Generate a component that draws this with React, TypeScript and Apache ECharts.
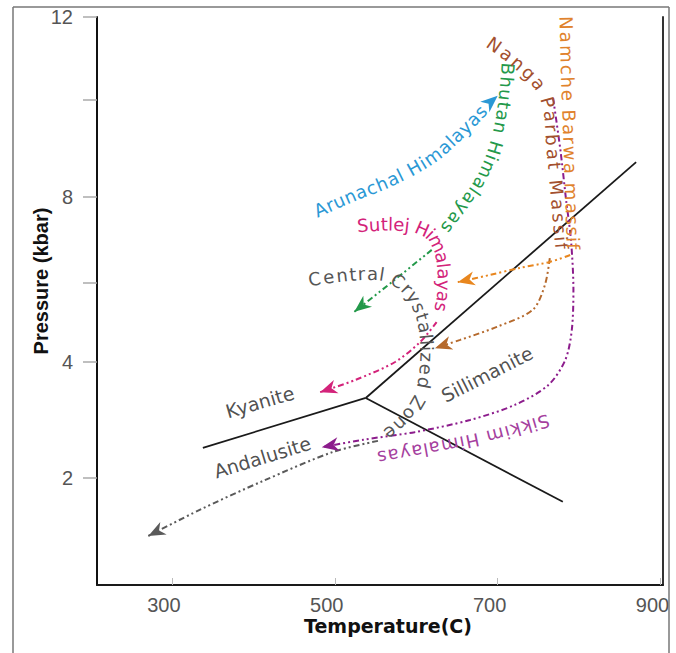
import React, { useEffect, useRef } from 'react';
import * as echarts from 'echarts';

// ---------- axes ----------
const temperatureTicks = [300, 500, 700, 900];
const pressureTicks = [2, 4, 6, 8, 10, 12];
const pressureLabels = [2, 4, 8, 12];
// the hand-drawn pressure axis is not uniform: pressure (kbar) -> plotted height
const pressureScaleP = [0, 2, 4, 6, 8, 10, 12];
const pressureScaleH = [-9, 107, 223, 302, 388, 485, 568];

// ---------- aluminosilicate reaction lines [T (C), P (kbar)] ----------
const kyaniteAndalusite = [[338, 2.52], [538, 3.38]];
const kyaniteSillimanite = [[538, 3.38], [870, 8.72]];
const andalusiteSillimanite = [[538, 3.38], [780, 1.59]];

const fieldNames = ['Kyanite', 'Andalusite', 'Sillimanite'];
const fieldPositions = [[408, 3.31], [411, 2.36], [687, 3.79]];

// ---------- P-T paths [T (C), P (kbar)] ----------
const arunachalText = [[475, 7.65], [519, 8.02], [568, 8.35], [617, 8.8], [654, 9.34], [683, 9.84]];
const arunachalPath = [[683, 9.84], [700, 10.1]];

const bhutanText = [[713, 10.92], [709, 10.0], [700, 9.18], [684, 8.45], [660, 7.81], [635, 7.19]];
const bhutanPath = [[619, 6.77], [570, 6.02], [524, 5.27]];

const nangaText = [[687, 11.45], [721, 10.96], [752, 10.36], [764, 9.79], [768, 8.97], [773, 8.04], [779, 6.77]];
const nangaPath = [[764, 6.58], [758, 5.95], [743, 5.32], [699, 4.89], [654, 4.56], [623, 4.35]];

const namcheText = [[784, 12.05], [786, 10.48], [789, 8.97], [793, 6.77]];
const namchePath = [[789, 6.65], [764, 6.49], [727, 6.35], [691, 6.19], [651, 6.02]];

const sutlejText = [[527, 7.33], [570, 7.37], [605, 7.28], [624, 7.0], [633, 6.49], [634, 5.82], [630, 5.27]];
const sutlejPath = [[625, 5.01], [605, 4.51], [574, 4.0], [525, 3.69], [482, 3.48]];

const centralText = [[466, 6.07], [513, 6.19], [556, 6.21], [580, 6.02], [598, 5.62], [610, 4.94], [613, 4.05], [606, 3.43], [586, 3.0], [562, 2.71]];
const centralPath = [[553, 2.64], [498, 2.45], [412, 1.95], [334, 1.45], [271, 1.0]];

const sikkimPath = [[768, 10.05], [777, 8.97], [784, 7.93], [790, 7.0], [793, 5.82], [791, 4.81], [783, 4.05], [762, 3.6], [721, 3.26], [666, 3.0], [598, 2.79], [535, 2.66], [484, 2.53]];
const sikkimText = [[764, 3.0], [694, 2.72], [629, 2.53], [552, 2.34]];

const routes = [
  { name: 'Arunachal Himalayas', text: arunachalText, path: arunachalPath, line: false, textColor: '#2a98d5', lineColor: '#2a98d5' },
  { name: 'Bhutan Himalayas', text: bhutanText, path: bhutanPath, line: true, textColor: '#23994a', lineColor: '#23994a' },
  { name: 'Nanga Parbat Massif', text: nangaText, path: nangaPath, line: true, textColor: '#a3502e', lineColor: '#b5692c' },
  { name: 'Namche Barwa massif', text: namcheText, path: namchePath, line: true, textColor: '#e0822c', lineColor: '#e8861e' },
  { name: 'Sutlej Himalayas', text: sutlejText, path: sutlejPath, line: true, textColor: '#d3237a', lineColor: '#d3237a' },
  { name: 'Central Crystallized Zone', text: centralText, path: centralPath, line: true, textColor: '#555555', lineColor: '#5a5a5a' },
  { name: 'Sikkim Himalayas', text: sikkimText, path: sikkimPath, line: true, textColor: '#a5409e', lineColor: '#8c1c8c' },
];

function interp(v: number, xs: number[], ys: number[]) {
  let i = 0;
  if (v <= xs[0]) i = 0;
  else if (v >= xs[xs.length - 1]) i = xs.length - 2;
  else while (v > xs[i + 1]) i++;
  return ys[i] + ((v - xs[i]) * (ys[i + 1] - ys[i])) / (xs[i + 1] - xs[i]);
}
const toH = (p: number) => interp(p, pressureScaleP, pressureScaleH);
const fromH = (h: number) => interp(h, pressureScaleH, pressureScaleP);

function catmull(pts: number[][]) {
  if (pts.length < 3) return pts.slice();
  const out: number[][] = [];
  for (let i = 0; i < pts.length - 1; i++) {
    const p0 = pts[i - 1] || pts[i], p1 = pts[i], p2 = pts[i + 1], p3 = pts[i + 2] || pts[i + 1];
    for (let k = 0; k < 12; k++) {
      const t = k / 12, t2 = t * t, t3 = t2 * t;
      const f = (a: number, b: number, c: number, d: number) =>
        0.5 * (2 * b + (-a + c) * t + (2 * a - 5 * b + 4 * c - d) * t2 + (-a + 3 * b - 3 * c + d) * t3);
      out.push([f(p0[0], p1[0], p2[0], p3[0]), f(p0[1], p1[1], p2[1], p3[1])]);
    }
  }
  out.push(pts[pts.length - 1]);
  return out;
}

const PATH_FONT_SIZE = 18;
const PATH_FONT = `${PATH_FONT_SIZE}px "DejaVu Sans"`;

function textAlongPath(text: string, pix: number[][], color: string) {
  const pts = catmull(pix);
  const cum = [0];
  for (let i = 1; i < pts.length; i++) {
    cum.push(cum[i - 1] + Math.hypot(pts[i][0] - pts[i - 1][0], pts[i][1] - pts[i - 1][1]));
  }
  const L = cum[cum.length - 1];
  const ctx = document.createElement('canvas').getContext('2d')!;
  ctx.font = PATH_FONT;
  const chars = Array.from(text);
  const widths = chars.map((c) => ctx.measureText(c).width || PATH_FONT_SIZE * 0.5);
  const total = widths.reduce((a, b) => a + b, 0);
  const scale = L / total;
  const els: any[] = [];
  let s = 0;
  chars.forEach((ch, idx) => {
    const sc = (s + widths[idx] / 2) * scale;
    s += widths[idx];
    let j = 1;
    while (j < cum.length - 1 && cum[j] < sc) j++;
    const a = pts[j - 1], b = pts[j];
    const segL = cum[j] - cum[j - 1] || 1;
    const t = Math.min(1, Math.max(0, (sc - cum[j - 1]) / segL));
    const x = a[0] + (b[0] - a[0]) * t;
    const y = a[1] + (b[1] - a[1]) * t;
    const ang = Math.atan2(b[1] - a[1], b[0] - a[0]);
    if (ch === ' ') return;
    els.push({
      type: 'text',
      x,
      y,
      rotation: -ang,
      z: 20,
      silent: true,
      style: {
        text: ch,
        fill: color,
        font: PATH_FONT,
        textAlign: 'center',
        textVerticalAlign: 'middle',
        align: 'center',
        verticalAlign: 'middle',
      },
    });
  });
  return els;
}

function arrowHead(pix: number[][], color: string) {
  const tip = pix[pix.length - 1];
  const prev = pix[pix.length - 2];
  let dx = tip[0] - prev[0], dy = tip[1] - prev[1];
  const d = Math.hypot(dx, dy) || 1;
  dx /= d; dy /= d;
  const px = -dy, py = dx;
  const len = 17, half = 7, notch = 12;
  return {
    type: 'polygon',
    z: 25,
    silent: true,
    shape: {
      points: [
        [tip[0], tip[1]],
        [tip[0] - dx * len + px * half, tip[1] - dy * len + py * half],
        [tip[0] - dx * notch, tip[1] - dy * notch],
        [tip[0] - dx * len - px * half, tip[1] - dy * len - py * half],
      ],
    },
    style: { fill: color },
  };
}

export default function App() {
  const ref = useRef<HTMLDivElement>(null);
  useEffect(() => {
    const el = ref.current!;
    const chart = echarts.init(el, null, { renderer: 'svg' });
    const pt = (d: number[]) => [d[0], toH(d[1])];
    const dash = [6, 3, 2, 3, 2, 3];
    const fieldRotations = [16, 17, 27];

    const series: any[] = [];
    [kyaniteAndalusite, kyaniteSillimanite, andalusiteSillimanite].forEach((seg) => {
      series.push({
        type: 'line',
        data: seg.map(pt),
        symbol: 'none',
        silent: true,
        z: 3,
        lineStyle: { color: '#1a1a1a', width: 1.8 },
      });
    });
    routes.forEach((r) => {
      if (!r.line) return;
      series.push({
        type: 'line',
        name: r.name,
        data: r.path.map(pt),
        smooth: 0.3,
        symbol: 'none',
        silent: true,
        z: 4,
        lineStyle: { color: r.lineColor, width: 2, type: dash },
      });
    });
    series.push({
      type: 'scatter',
      symbolSize: 1,
      silent: true,
      z: 6,
      itemStyle: { color: 'transparent' },
      data: fieldNames.map((n, i) => ({
        name: n,
        value: pt(fieldPositions[i]),
        label: { rotate: fieldRotations[i] },
      })),
      label: {
        show: true,
        position: 'inside',
        formatter: '{b}',
        fontSize: 19,
        fontFamily: '"DejaVu Sans"',
        color: '#222',
      },
    });

    chart.setOption({
      animation: false,
      backgroundColor: '#ffffff',
      grid: { left: 97, right: 13, top: 17, bottom: 68, containLabel: false, outerBoundsMode: 'none' },
      xAxis: {
        type: 'value',
        min: 208,
        max: 903,
        name: 'Temperature(C)',
        nameLocation: 'middle',
        nameGap: 31,
        nameMoveOverlap: false,
        nameTextStyle: { fontSize: 19, fontWeight: 'bold', color: '#111', fontFamily: '"DejaVu Sans"', padding: [0, 0, 0, 16] },
        axisLine: { show: true, onZero: false, lineStyle: { color: '#1a1a1a', width: 2 } },
        axisTick: { show: true, inside: true, length: 7, customValues: temperatureTicks, lineStyle: { color: '#bbbbbb', width: 1 } },
        axisLabel: {
          customValues: temperatureTicks,
          margin: 10,
          fontSize: 20,
          color: '#555',
          fontFamily: '"Liberation Sans"',
          padding: [0, 16, 0, 0],
        },
        splitLine: { show: false },
      },
      yAxis: [
        {
          type: 'value',
          min: 0,
          max: 568,
          name: 'Pressure (kbar)',
          nameLocation: 'middle',
          nameGap: 46,
          nameMoveOverlap: false,
          nameTextStyle: { fontSize: 20, fontWeight: 'bold', color: '#111', fontFamily: '"Liberation Sans"', padding: [0, 0, 0, 40] },
          axisLine: { show: true, onZero: false, lineStyle: { color: '#111', width: 2 } },
          axisTick: { show: true, inside: false, length: 14, customValues: pressureTicks.map(toH), lineStyle: { color: '#aaaaaa', width: 1.5 } },
          axisLabel: {
            customValues: pressureLabels.map(toH),
            formatter: (v: number) => String(Math.round(fromH(v))),
            margin: 24,
            fontSize: 20,
            color: '#555',
            fontFamily: '"Liberation Sans"',
          },
          splitLine: { show: false },
        },
        {
          type: 'value',
          min: 0,
          max: 568,
          position: 'right',
          axisLine: { show: true, onZero: false, lineStyle: { color: '#333', width: 2 } },
          axisTick: { show: false },
          axisLabel: { show: false },
          splitLine: { show: false },
        },
      ],
      series,
    });

    const toPix = (d: number[]) => chart.convertToPixel({ gridIndex: 0 }, pt(d)) as number[];
    const graphics: any[] = [];
    routes.forEach((r) => {
      const tp = r.text.map(toPix);
      graphics.push(...textAlongPath(r.name, tp, r.textColor));
      graphics.push(arrowHead(r.path.map(toPix), r.lineColor));
    });
    // outer figure frame
    graphics.push({ type: 'rect', z: 50, silent: true, shape: { x: 670, y: 0, width: 6, height: 653 }, style: { fill: '#fff' } });
    graphics.push({ type: 'line', z: 51, silent: true, shape: { x1: 13, y1: 7, x2: 669, y2: 7 }, style: { stroke: '#777', lineWidth: 1.5 } });
    graphics.push({ type: 'line', z: 51, silent: true, shape: { x1: 13, y1: 7, x2: 13, y2: 653 }, style: { stroke: '#777', lineWidth: 1.5 } });
    graphics.push({ type: 'line', z: 51, silent: true, shape: { x1: 669, y1: 7, x2: 669, y2: 653 }, style: { stroke: '#777', lineWidth: 1.5 } });
    chart.setOption({ graphic: graphics });

    return () => chart.dispose();
  }, []);
  return (
    <div
      ref={ref}
      style={{ position: 'absolute', left: 0, top: 0, width: 676, height: 653, background: '#fff' }}
    />
  );
}
